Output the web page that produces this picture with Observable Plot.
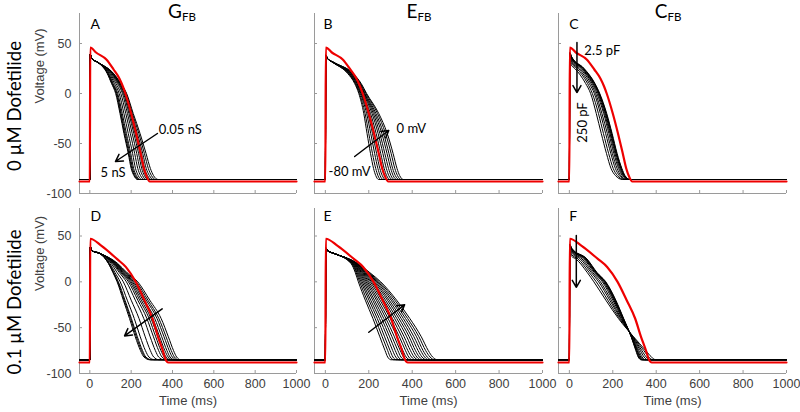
<!DOCTYPE html>
<html><head><meta charset="utf-8">
<script src="https://cdn.jsdelivr.net/npm/d3@7"></script>
<script src="https://cdn.jsdelivr.net/npm/@observablehq/plot@0.6"></script>
<style>
body{margin:0;background:#fff}
#fig{position:relative;width:800px;height:412px;overflow:hidden;background:#fff}
#fig>svg{position:absolute;left:0;top:0}
</style>
</head><body><div id="fig"></div>
<script>
// ---------- axes ----------
const xTicks = [0, 200, 400, 600, 800, 1000];
const yTicks = [-100, -50, 0, 50];
const xDomain = [-50, 1000];
const yDomain = [-100, 80];

// ---------- red (control) traces ----------
const redTopT = [-50, 0, 2, 30, 80, 115, 143, 160, 172, 200, 224, 246, 262, 275, 290, 1000];
const redTopV = [-88, -88, 46, 41, 34, 24, 15, 7, 0, -20, -40, -60, -75, -83, -88, -88];
const redBotT = [-50, 0, 2, 55, 131, 175, 222, 264, 303, 330, 353, 365, 380, 1000];
const redBotV = [-88, -88, 47, 39.5, 25, 16, 0, -20, -40, -60, -75, -84, -88, -88];

// ---------- black traces: time (ms) at which each trace reaches each voltage level ----------
const restTop = -86, restBot = -85;
const levelsTop = [31, 20, 10, 0, -20, -40, -60, -75, -82, -86];
const levelsBot = [31, 20, 10, 0, -20, -40, -60, -75, -82, -85];
const levelsCTop = [25, 10, 0, -20, -40, -60, -75, -82, -86];
const levelsFBot = [25, 10, 0, -20, -40, -60, -75, -82, -85];

// A: G_FB 5 nS ... 0.05 nS, 0 uM dofetilide
const peakA = 39, at10A = 35;
const timesA = [
  [40, 84, 105, 125, 146, 165, 186, 200, 213, 230],
  [40, 86, 107, 128, 149, 168, 189, 203, 216, 233],
  [40, 88, 110, 131, 152, 172, 193, 207, 220, 237],
  [40, 90, 113, 135, 157, 177, 198, 212, 225, 242],
  [40, 94, 119, 142, 165, 186, 207, 221, 234, 251],
  [40, 98, 126, 150, 174, 196, 217, 232, 245, 262],
  [40, 102, 133, 158, 182, 205, 227, 242, 255, 272],
  [40, 106, 138, 163, 189, 213, 236, 251, 264, 281],
  [40, 108, 141, 167, 194, 219, 243, 258, 271, 289],
  [40, 110, 144, 170, 198, 224, 249, 265, 279, 297],
  [40, 112, 146, 173, 202, 230, 256, 273, 288, 307],
  [40, 114, 148, 176, 206, 237, 264, 283, 298, 318],
  [40, 115, 150, 178, 210, 243, 272, 293, 308, 330]
];
// B: E_FB -80 ... 0 mV
const peakB = 38, at10B = 35;
const timesB = [
  [35, 103, 135, 154, 177, 192, 208, 222, 232, 245],
  [35, 105, 138, 157, 183, 200, 217, 232, 242, 255],
  [36, 108, 140, 161, 190, 209, 227, 242, 252, 266],
  [36, 110, 143, 164, 196, 217, 236, 251, 262, 276],
  [37, 112, 146, 167, 202, 226, 246, 261, 272, 287],
  [37, 114, 149, 170, 208, 234, 255, 271, 282, 297],
  [38, 117, 151, 174, 215, 243, 265, 281, 292, 308],
  [38, 119, 154, 177, 221, 251, 274, 291, 302, 318],
  [39, 121, 157, 180, 227, 260, 284, 301, 312, 329],
  [39, 123, 160, 183, 233, 268, 293, 310, 322, 339],
  [40, 126, 162, 187, 240, 277, 303, 320, 332, 350],
  [40, 128, 165, 190, 246, 285, 312, 330, 342, 360]
];
// C: C_FB 2.5 ... 250 pF
const peaksC = [41, 40.6, 40.2, 39.7, 39, 38, 36.5, 35, 33, 31];
const at10C = [37, 36.6, 36.3, 35.8, 35.2, 34.3, 33, 31.6, 29.8, 28];
const timesC = [
  [68, 118, 140, 172, 197, 220, 242, 256, 280],
  [66, 116, 138, 170, 195, 218, 240, 254, 279],
  [65, 115, 137, 168, 193, 216, 238, 252, 277],
  [62, 112, 135, 166, 190, 214, 236, 250, 275],
  [59, 109, 132, 162, 187, 210, 232, 247, 273],
  [55, 105, 127, 158, 182, 205, 227, 243, 270],
  [49, 99, 121, 150, 175, 198, 220, 236, 264],
  [42, 92, 115, 143, 167, 191, 212, 230, 259],
  [34, 84, 106, 134, 157, 181, 202, 221, 252],
  [25, 75, 98, 124, 147, 171, 192, 212, 245]
];
// D: G_FB, 0.1 uM dofetilide
const peakD = 38, at10D = 34;
const timesD = [
  [48, 90, 112, 132, 162, 192, 220, 245, 262, 290],
  [48, 91, 114, 135, 166, 197, 225, 250, 267, 295],
  [48, 93, 116, 138, 170, 201, 230, 255, 271, 299],
  [48, 97, 122, 147, 181, 215, 244, 269, 286, 313],
  [48, 104, 132, 162, 200, 238, 268, 293, 309, 335],
  [48, 110, 143, 177, 220, 261, 292, 317, 333, 358],
  [48, 115, 149, 187, 232, 276, 308, 333, 349, 373],
  [48, 118, 154, 194, 241, 287, 319, 344, 360, 383],
  [48, 121, 158, 200, 249, 296, 329, 354, 369, 392],
  [48, 123, 162, 206, 257, 305, 338, 363, 379, 401],
  [48, 126, 166, 212, 264, 314, 348, 373, 388, 410],
  [48, 129, 171, 219, 273, 325, 359, 384, 399, 421],
  [48, 132, 175, 225, 281, 334, 369, 394, 409, 430],
  [48, 135, 180, 232, 290, 345, 380, 405, 420, 440]
];
// E: E_FB, 0.1 uM dofetilide
const peakE = 37, at10E = 34;
const timesE = [
  [40, 118, 138, 152, 184, 219, 251, 275, 287, 302],
  [40, 120, 142, 158, 192, 229, 262, 287, 299, 315],
  [40, 122, 146, 164, 201, 239, 273, 298, 311, 327],
  [40, 124, 150, 170, 209, 249, 285, 310, 324, 340],
  [40, 126, 154, 176, 218, 259, 296, 322, 336, 352],
  [40, 127, 158, 182, 226, 269, 307, 334, 348, 365],
  [40, 129, 162, 188, 235, 279, 318, 345, 360, 377],
  [40, 131, 166, 194, 243, 289, 330, 357, 372, 390],
  [40, 133, 170, 200, 252, 299, 341, 369, 384, 402],
  [40, 135, 173, 207, 260, 309, 352, 380, 397, 415],
  [40, 137, 177, 213, 269, 319, 363, 392, 409, 427],
  [40, 139, 181, 219, 277, 329, 375, 404, 421, 440],
  [40, 141, 185, 225, 286, 339, 386, 415, 433, 452],
  [40, 142, 189, 231, 294, 349, 397, 427, 445, 465],
  [40, 144, 193, 237, 303, 359, 408, 439, 457, 477],
  [40, 146, 197, 243, 311, 369, 420, 450, 469, 490],
  [40, 148, 201, 249, 320, 379, 431, 462, 482, 502],
  [40, 150, 205, 255, 328, 389, 442, 474, 494, 515]
];
// F: C_FB, 0.1 uM dofetilide
const peaksF = [41, 40.6, 40.2, 39.7, 39, 38, 36.5, 35, 33, 31];
const at10F = [37, 36.6, 36.3, 35.8, 35.2, 34.3, 33, 31.6, 29.8, 28];
const timesF = [
  [81, 128, 168, 214, 250, 285, 306, 317, 330],
  [79, 126, 166, 212, 249, 285, 308, 319, 333],
  [77, 124, 164, 210, 248, 286, 310, 322, 335],
  [74, 122, 161, 208, 247, 286, 312, 325, 339],
  [71, 119, 157, 205, 245, 287, 315, 329, 344],
  [66, 115, 152, 200, 243, 288, 320, 335, 350],
  [58, 108, 143, 193, 239, 290, 327, 344, 361],
  [50, 101, 135, 186, 236, 292, 334, 354, 371],
  [40, 92, 124, 177, 231, 294, 343, 366, 384],
  [30, 83, 113, 168, 226, 296, 352, 378, 398]
];

// ---------- build tables ----------
function blackRows(times, levels, peak, at10, rest) {
  const rows = [];
  times.forEach((ts, i) => {
    const pk = Array.isArray(peak) ? peak[i] : peak;
    const p10 = Array.isArray(at10) ? at10[i] : at10;
    rows.push({id: i, t: -50, v: rest}, {id: i, t: 0, v: rest}, {id: i, t: 2, v: pk}, {id: i, t: 10, v: p10});
    ts.forEach((t, j) => rows.push({id: i, t, v: levels[j]}));
    rows.push({id: i, t: 1000, v: rest});
  });
  return rows;
}
const redRows = (T, V) => T.map((t, i) => ({t, v: V[i]}));

const FONT = "'Liberation Sans', Arial, sans-serif";
const ANNO = "Lato, 'Open Sans', sans-serif";
const AX = "#9a9a9a", TXT = "#404040";
const fmt = d => String(d);

function panel(cfg) {
  const marks = [
    Plot.ruleX([-50], {stroke: AX}),
    Plot.ruleY([-100], {stroke: AX}),
    Plot.axisY({ticks: yTicks, tickSize: -3, tickFormat: () => "", stroke: AX, label: null}),
    Plot.axisX({ticks: xTicks, tickSize: -3, tickFormat: () => "", stroke: AX, label: null})
  ];
  if (cfg.yLabels) {
    marks.push(Plot.axisY({ticks: yTicks, tickSize: 0, tickPadding: 8, tickFormat: fmt, fill: TXT, label: null, fontSize: 12.5}));
    marks.push(Plot.text(["Voltage (mV)"], {frameAnchor: "left", rotate: -90, dx: -40, fill: TXT, fontSize: 13}));
  }
  if (cfg.xLabels) {
    marks.push(Plot.axisX({ticks: xTicks, tickSize: 0, tickPadding: 6, tickFormat: fmt, fill: TXT, label: null, fontSize: 12.5}));
    marks.push(Plot.text(["Time (ms)"], {frameAnchor: "bottom", dy: 31, fill: TXT, fontSize: 13}));
  }
  marks.push(Plot.line(cfg.black, {x: "t", y: "v", z: "id", stroke: "black", strokeWidth: 1, curve: "monotone-x"}));
  marks.push(Plot.line(cfg.red, {x: "t", y: "v", stroke: "#ee0000", strokeWidth: 2.2, curve: "monotone-x"}));
  marks.push(Plot.text([cfg.letter], {x: cfg.letterX, y: cfg.letterY, textAnchor: "start", fontFamily: ANNO, fontSize: 14, fill: "black"}));
  for (const a of cfg.arrows) {
    marks.push(Plot.arrow([a], {x1: "x1", y1: "y1", x2: "x2", y2: "y2", stroke: "black", strokeWidth: 1.5, headLength: 8}));
  }
  for (const n of cfg.notes) {
    marks.push(Plot.text([n], {x: "x", y: "y", text: "s", rotate: n.r || 0, textAnchor: n.anchor || "start", fontFamily: ANNO, fontSize: 13, fill: "black"}));
  }
  return Plot.plot({
    width: 800, height: 412,
    marginLeft: cfg.l, marginRight: 800 - cfg.r, marginTop: cfg.t, marginBottom: 412 - cfg.b,
    x: {domain: xDomain}, y: {domain: yDomain},
    style: {background: "none", overflow: "visible", fontFamily: FONT},
    marks
  });
}

const fig = document.getElementById("fig");
const cfgs = [
  {letter: "A", letterX: 3, letterY: 69, l: 79, r: 296, t: 13, b: 193, yLabels: true, xLabels: false,
   black: blackRows(timesA, levelsTop, peakA, at10A, restTop), red: redRows(redTopT, redTopV),
   arrows: [{x1: 327, y1: -40, x2: 124, y2: -68}],
   notes: [{x: 333, y: -36, s: "0.05 nS"}, {x: 52, y: -79, s: "5 nS"}]},
  {letter: "B", letterX: -8, letterY: 69, l: 314, r: 542, t: 13, b: 193, yLabels: false, xLabels: false,
   black: blackRows(timesB, levelsTop, peakB, at10B, restTop), red: redRows(redTopT, redTopV),
   arrows: [{x1: 135, y1: -63, x2: 292, y2: -37}],
   notes: [{x: 328, y: -35, s: "0 mV"}, {x: 15, y: -78, s: "-80 mV"}]},
  {letter: "C", letterX: 0, letterY: 69, l: 558, r: 786, t: 13, b: 193, yLabels: false, xLabels: false,
   black: blackRows(timesC, levelsCTop, peaksC, at10C, restTop), red: redRows(redTopT, redTopV),
   arrows: [{x1: 35, y1: 51, x2: 35, y2: 1}],
   notes: [{x: 69, y: 43, s: "2.5 pF"}, {x: 64, y: -29, s: "250 pF", r: -90, anchor: "middle"}]},
  {letter: "D", letterX: 3, letterY: 71, l: 79, r: 296, t: 208, b: 373, yLabels: true, xLabels: true,
   black: blackRows(timesD, levelsBot, peakD, at10D, restBot), red: redRows(redBotT, redBotV),
   arrows: [{x1: 350, y1: -29.5, x2: 168, y2: -59}], notes: []},
  {letter: "E", letterX: -9, letterY: 71, l: 314, r: 542, t: 208, b: 373, yLabels: false, xLabels: true,
   black: blackRows(timesE, levelsBot, peakE, at10E, restBot), red: redRows(redBotT, redBotV),
   arrows: [{x1: 200, y1: -55, x2: 365, y2: -25}], notes: []},
  {letter: "F", letterX: 0, letterY: 71, l: 558, r: 786, t: 208, b: 373, yLabels: false, xLabels: true,
   black: blackRows(timesF, levelsFBot, peaksF, at10F, restBot), red: redRows(redBotT, redBotV),
   arrows: [{x1: 32, y1: 50.5, x2: 32, y2: -6}], notes: []}
];
for (const c of cfgs) fig.appendChild(panel(c));

// ---------- titles & row labels ----------
const svg = d3.select(fig).append("svg").attr("width", 800).attr("height", 412)
  .style("font-family", ANNO).style("pointer-events", "none");
const titles = [["G", 182], ["E", 419], ["C", 668]];
for (const [s, x] of titles) {
  const t = svg.append("text").attr("x", x).attr("y", 18.3).attr("text-anchor", "middle")
    .attr("font-size", 19).attr("fill", "black");
  t.append("tspan").text(s);
  t.append("tspan").attr("font-size", 11.5).attr("dy", 2.4).text("FB");
}
const rows = [["0 \u00b5M Dofetilide", 106], ["0.1 \u00b5M Dofetilide", 302]];
for (const [s, y] of rows) {
  svg.append("text").attr("transform", `translate(21,${y}) rotate(-90)`).attr("text-anchor", "middle")
    .attr("font-size", 18.5).attr("fill", "black").text(s);
}
</script>
</body></html>
